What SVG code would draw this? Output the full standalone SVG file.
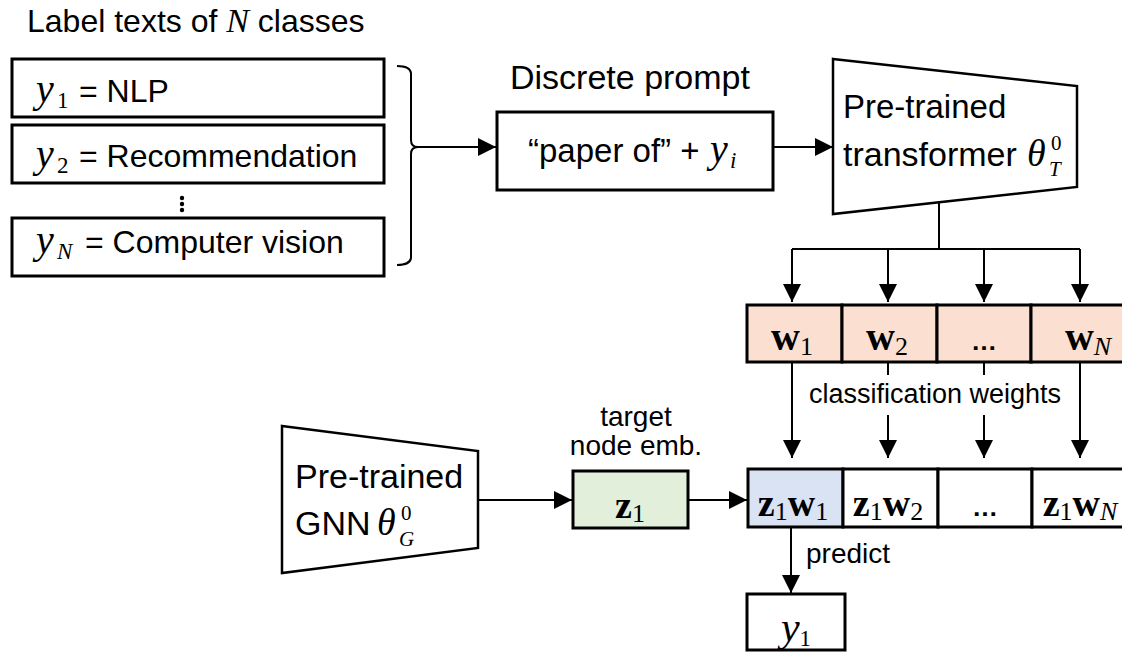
<svg xmlns="http://www.w3.org/2000/svg" width="1122" height="652" viewBox="0 0 1122 652">
<style>
.t{font-family:"Liberation Sans",Arial,sans-serif;fill:#000}
.m{font-family:"Liberation Serif","Times New Roman",serif;font-style:italic;fill:#000}
.mb{font-family:"Liberation Serif","Times New Roman",serif;font-weight:bold;fill:#000}
.r{font-family:"Liberation Serif","Times New Roman",serif;font-style:normal;font-weight:normal;fill:#000}
.box{fill:#fff;stroke:#000;stroke-width:3}
.trap{fill:#fff;stroke:#000;stroke-width:2.5;stroke-linejoin:miter}
.ln{fill:none;stroke:#000;stroke-width:2}
</style>
<defs>
<marker id="ah" viewBox="0 0 18 18" markerWidth="18" markerHeight="18" markerUnits="userSpaceOnUse" refX="18" refY="9" orient="auto">
<path d="M0,0 L18,9 L0,18 z" fill="#000"/>
</marker>
</defs>

<text class="t" x="27" y="32" font-size="32">Label texts of <tspan class="m" font-size="34">N</tspan> classes</text>

<g id="label1">
<rect class="box" x="12" y="59" width="372" height="58"/>
<text x="36" y="102"><tspan class="m" font-size="40">y</tspan><tspan class="r" font-size="23" x="57" y="108">1</tspan><tspan class="t" font-size="32" x="79" y="102">= NLP</tspan></text>
</g>
<g id="label2">
<rect class="box" x="12" y="125" width="372" height="58"/>
<text x="36" y="167"><tspan class="m" font-size="40">y</tspan><tspan class="r" font-size="23" x="57" y="173">2</tspan><tspan class="t" font-size="32" x="79" y="167">= Recommendation</tspan></text>
</g>
<g id="vdots">
<circle cx="182" cy="198" r="2.2"/><circle cx="182" cy="204" r="2.2"/><circle cx="182" cy="210" r="2.2"/>
</g>
<g id="labelN">
<rect class="box" x="12" y="218" width="372" height="58"/>
<text x="36" y="253"><tspan class="m" font-size="40">y</tspan><tspan class="m" font-size="23" x="57" y="259">N</tspan><tspan class="t" font-size="32" x="85" y="253">= Computer vision</tspan></text>
</g>
<g id="brace">
<path class="ln" d="M397,66 Q410,66 411,73 L411,140 Q411,147 418,147 Q411,147 411,154 L411,258 Q410,265 397,265"/>
</g>

<g id="prompt">
<text class="t" x="510" y="89" font-size="34">Discrete prompt</text>
<rect class="box" x="497" y="112" width="276" height="78"/>
<text x="528" y="162"><tspan class="t" font-size="33">“paper of” + </tspan><tspan class="m" font-size="40" x="710" y="162">y</tspan><tspan class="m" font-size="23" x="730" y="168">i</tspan></text>
</g>

<g id="transformer">
<polygon class="trap" points="833,59 1077,86 1077,187 833,214"/>
<text class="t" x="843" y="118" font-size="33">Pre-trained</text>
<text x="843" y="166"><tspan class="t" font-size="34">transformer</tspan><tspan class="m" font-size="38" x="1027" y="166">θ</tspan><tspan class="r" font-size="21" x="1051" y="150">0</tspan><tspan class="m" font-size="21" x="1049" y="176">T</tspan></text>
</g>

<g id="weights">
<rect x="747" y="305" width="95" height="57" fill="#FBE0D1" stroke="#000" stroke-width="3"/>
<rect x="842" y="305" width="95" height="57" fill="#FBE0D1" stroke="#000" stroke-width="3"/>
<rect x="937" y="305" width="94" height="57" fill="#FBE0D1" stroke="#000" stroke-width="3"/>
<rect x="1031" y="305" width="100" height="57" fill="#FBE0D1" stroke="#000" stroke-width="3"/>
<text x="792" y="350" text-anchor="middle"><tspan class="mb" font-size="40">w</tspan><tspan class="r" font-size="26" dy="5">1</tspan></text>
<text x="887" y="350" text-anchor="middle"><tspan class="mb" font-size="40">w</tspan><tspan class="r" font-size="26" dy="5">2</tspan></text>
<text class="t" x="984" y="350" text-anchor="middle" font-size="26" font-weight="bold">…</text>
<text x="1088" y="350" text-anchor="middle"><tspan class="mb" font-size="40">w</tspan><tspan class="m" font-size="26" dy="5">N</tspan></text>
</g>
<text class="t" x="935" y="403" text-anchor="middle" font-size="27">classification weights</text>

<g id="gnn">
<polygon class="trap" points="282,426 478,451 478,548 282,573"/>
<text class="t" x="295" y="488" font-size="34">Pre-trained</text>
<text x="295" y="535"><tspan class="t" font-size="34">GNN</tspan><tspan class="m" font-size="38" x="377" y="535">θ</tspan><tspan class="r" font-size="21" x="401" y="520">0</tspan><tspan class="m" font-size="21" x="399" y="546">G</tspan></text>
</g>

<g id="z1">
<text class="t" x="636" y="426" text-anchor="middle" font-size="28">target</text>
<text class="t" x="636" y="455" text-anchor="middle" font-size="28">node emb.</text>
<rect x="573" y="471" width="115" height="57" fill="#E2EFDA" stroke="#000" stroke-width="3"/>
<text x="630" y="518" text-anchor="middle"><tspan class="mb" font-size="38">z</tspan><tspan class="r" font-size="26" dy="4">1</tspan></text>
</g>

<g id="scores">
<rect x="748" y="469" width="95" height="58" fill="#DAE3F3" stroke="#000" stroke-width="3"/>
<rect x="843" y="469" width="95" height="58" fill="#fff" stroke="#000" stroke-width="3"/>
<rect x="938" y="469" width="94" height="58" fill="#fff" stroke="#000" stroke-width="3"/>
<rect x="1032" y="469" width="100" height="58" fill="#fff" stroke="#000" stroke-width="3"/>
<text x="793" y="516" text-anchor="middle"><tspan class="mb" font-size="38">z</tspan><tspan class="r" font-size="26" dy="4">1</tspan><tspan class="mb" font-size="38" dy="-4">w</tspan><tspan class="r" font-size="26" dy="4">1</tspan></text>
<text x="888" y="516" text-anchor="middle"><tspan class="mb" font-size="38">z</tspan><tspan class="r" font-size="26" dy="4">1</tspan><tspan class="mb" font-size="38" dy="-4">w</tspan><tspan class="r" font-size="26" dy="4">2</tspan></text>
<text class="t" x="985" y="516" text-anchor="middle" font-size="26" font-weight="bold">…</text>
<text x="1080" y="516" text-anchor="middle"><tspan class="mb" font-size="38">z</tspan><tspan class="r" font-size="26" dy="4">1</tspan><tspan class="mb" font-size="38" dy="-4">w</tspan><tspan class="m" font-size="26" dy="4">N</tspan></text>
</g>

<g id="y1out">
<rect class="box" x="747" y="594" width="98" height="56"/>
<text x="796" y="641" text-anchor="middle"><tspan class="m" font-size="42">y</tspan><tspan class="r" font-size="23" dy="5">1</tspan></text>
</g>

<g id="connectors">
<line class="ln" x1="418" y1="147" x2="496" y2="147" marker-end="url(#ah)"/>
<line class="ln" x1="773" y1="147" x2="833" y2="147" marker-end="url(#ah)"/>
<polyline class="ln" points="939,202 939,249"/>
<polyline class="ln" points="792,249 1080,249"/>
<line class="ln" x1="792" y1="249" x2="792" y2="302" marker-end="url(#ah)"/>
<line class="ln" x1="888" y1="249" x2="888" y2="302" marker-end="url(#ah)"/>
<line class="ln" x1="984" y1="249" x2="984" y2="302" marker-end="url(#ah)"/>
<line class="ln" x1="1080" y1="249" x2="1080" y2="302" marker-end="url(#ah)"/>
<line class="ln" x1="792" y1="363" x2="792" y2="458" marker-end="url(#ah)"/>
<line class="ln" x1="888" y1="363" x2="888" y2="375"/>
<line class="ln" x1="888" y1="415" x2="888" y2="458" marker-end="url(#ah)"/>
<line class="ln" x1="984" y1="363" x2="984" y2="375"/>
<line class="ln" x1="984" y1="415" x2="984" y2="458" marker-end="url(#ah)"/>
<line class="ln" x1="1080" y1="363" x2="1080" y2="458" marker-end="url(#ah)"/>
<line class="ln" x1="478" y1="500" x2="572" y2="500" marker-end="url(#ah)"/>
<line class="ln" x1="688" y1="500" x2="747" y2="500" marker-end="url(#ah)"/>
<line class="ln" x1="791" y1="527" x2="791" y2="593" marker-end="url(#ah)"/>
<text class="t" x="806" y="563" font-size="28">predict</text>
</g>
</svg>
